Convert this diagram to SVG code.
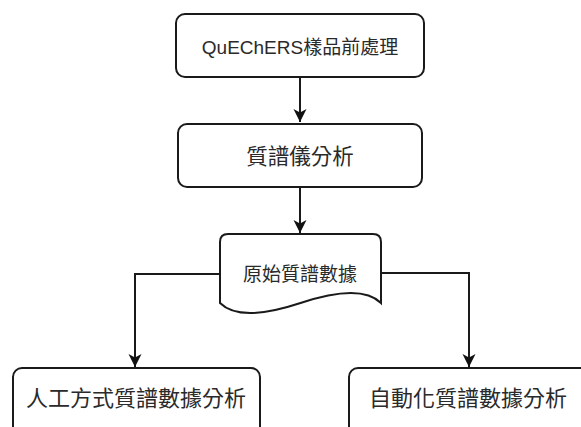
<svg xmlns="http://www.w3.org/2000/svg" width="581" height="427" viewBox="0 0 581 427">
<style>
.box{fill:#fff;stroke:#1a1a1a;stroke-width:2}
.t{font-family:"Liberation Sans","Noto Sans CJK TC",sans-serif;fill:#2a2a2a;text-anchor:middle;dominant-baseline:central}
.e{fill:none;stroke:#1a1a1a;stroke-width:2}
</style>
<defs>
<marker id="ah" viewBox="0 0 14 14" refX="13" refY="7" markerWidth="14" markerHeight="14" markerUnits="userSpaceOnUse" orient="auto">
<path d="M0,0.5 L13,7 L0,13.5 L3.5,7 Z" fill="#111"/>
</marker>
</defs>
<rect width="581" height="427" fill="#fff"/>
<g id="edges">
<path class="e" d="M300,77 V122" marker-end="url(#ah)"/>
<path class="e" d="M300,187 V233" marker-end="url(#ah)"/>
<path class="e" d="M220,274 H135 V367" marker-end="url(#ah)"/>
<path class="e" d="M381,273 H469 V367" marker-end="url(#ah)"/>
</g>
<g id="n1">
<rect class="box" x="176" y="14" width="248" height="63" rx="9"/>
<text class="t" x="300" y="47" font-size="19">QuEChERS樣品前處理</text>
</g>
<g id="n2">
<rect class="box" x="178" y="124" width="244" height="63" rx="9"/>
<text class="t" x="300" y="157" font-size="21.5">質譜儀分析</text>
</g>
<g id="n3">
<path class="box" d="M228,234 H373 Q381,234 381,242 V303 Q360.9,283 300.5,303 Q240.1,323 220,303 V242 Q220,234 228,234 Z"/>
<text class="t" x="300" y="274" font-size="19">原始質譜數據</text>
</g>
<g id="n4">
<rect class="box" x="13" y="368" width="247" height="75" rx="9"/>
<text class="t" x="136" y="398" font-size="22">人工方式質譜數據分析</text>
</g>
<g id="n5">
<rect class="box" x="349" y="368" width="240" height="75" rx="9"/>
<text class="t" x="468" y="398" font-size="22">自動化質譜數據分析</text>
</g>
</svg>
